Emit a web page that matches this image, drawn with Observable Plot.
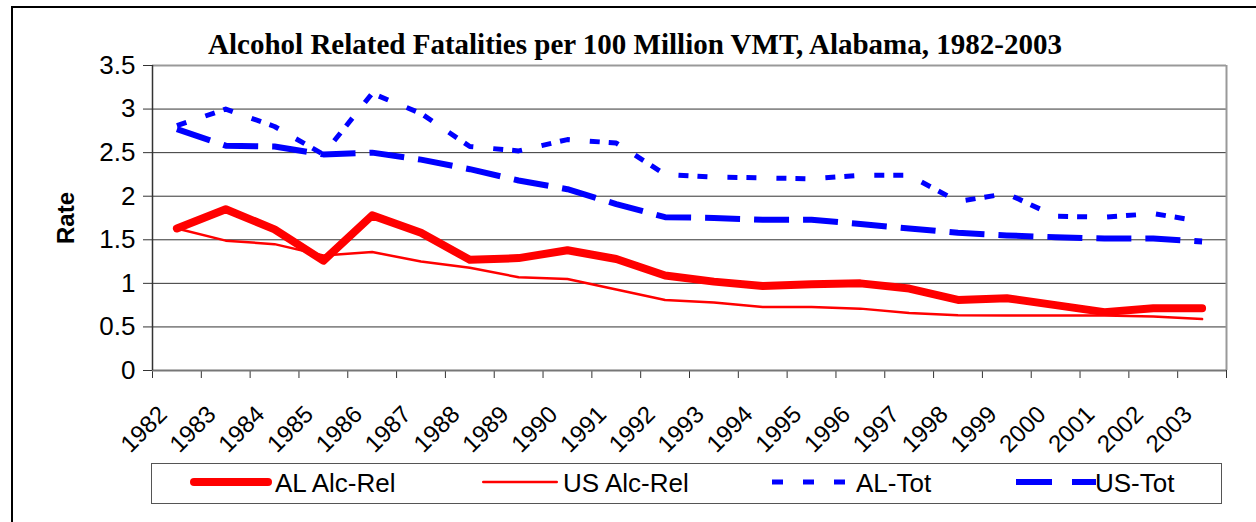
<!DOCTYPE html>
<html>
<head>
<meta charset="utf-8">
<script src="https://cdn.jsdelivr.net/npm/d3@7"></script>
<script src="https://cdn.jsdelivr.net/npm/@observablehq/plot@0.6"></script>
<style>
html, body { margin: 0; padding: 0; background: #fff; }
#wrap { position: relative; width: 1256px; height: 522px; overflow: hidden; font-family: "Liberation Sans", Arial, sans-serif; background: #fff; }
#border { position: absolute; left: 11px; top: 6px; width: 1400px; height: 700px; border: 2px solid #000; }
#title { position: absolute; left: 0; top: 30px; width: 1270px; text-align: center; font: bold 29px/29px "Liberation Serif", "Times New Roman", serif; white-space: nowrap; color: #000; }
#chart { position: absolute; left: 0; top: 0; }
#legend { position: absolute; left: 151px; top: 463px; width: 1069px; height: 39px; border: 1.5px solid #555; background: #fff; }
.sw { position: absolute; top: 0; }
.lt { position: absolute; top: 4px; font-size: 26px; line-height: 30px; color: #000; white-space: nowrap; }
</style>
</head>
<body>
<div id="wrap">
  <div id="border"></div>
  <div id="chart"></div>
  <div id="title">Alcohol Related Fatalities per 100 Million VMT, Alabama, 1982-2003</div>
  <div id="legend"></div>
</div>
<script>
// ---- data ----
const years = [1982, 1983, 1984, 1985, 1986, 1987, 1988, 1989, 1990, 1991, 1992,
               1993, 1994, 1995, 1996, 1997, 1998, 1999, 2000, 2001, 2002, 2003];
const alAlcRel = [1.63, 1.85, 1.62, 1.26, 1.78, 1.58, 1.27, 1.29, 1.38, 1.28, 1.09,
                  1.02, 0.97, 0.99, 1.00, 0.94, 0.81, 0.83, 0.75, 0.67, 0.715, 0.715];
const usAlcRel = [1.63, 1.49, 1.45, 1.32, 1.36, 1.25, 1.18, 1.07, 1.05, 0.93, 0.81,
                  0.78, 0.73, 0.73, 0.71, 0.66, 0.635, 0.63, 0.63, 0.63, 0.62, 0.59];
const alTot = [2.81, 3.00, 2.80, 2.48, 3.18, 2.95, 2.57, 2.52, 2.65, 2.61, 2.25,
               2.22, 2.21, 2.20, 2.24, 2.24, 1.94, 2.03, 1.77, 1.76, 1.80, 1.71];
const usTot = [2.77, 2.58, 2.57, 2.48, 2.50, 2.42, 2.31, 2.18, 2.08, 1.91, 1.76,
               1.75, 1.73, 1.73, 1.68, 1.63, 1.58, 1.55, 1.53, 1.515, 1.515, 1.48];
const seriesNames = ["AL Alc-Rel", "US Alc-Rel", "AL-Tot", "US-Tot"];
const yTicks = [0, 0.5, 1, 1.5, 2, 2.5, 3, 3.5];
const yLabel = "Rate";

// ---- styles (not data) ----
const styles = {
  "AL Alc-Rel": {stroke: "#FF0000", strokeWidth: 8, strokeDasharray: null, cap: "round"},
  "US Alc-Rel": {stroke: "#FF0000", strokeWidth: 2.5, strokeDasharray: null, cap: "round"},
  "AL-Tot": {stroke: "#0000FF", strokeWidth: 5, strokeDasharray: "10,20,10,9", cap: "butt"},
  "US-Tot": {stroke: "#0000FF", strokeWidth: 6, strokeDasharray: "35,14", cap: "butt"}
};

const seriesValues = [alAlcRel, usAlcRel, alTot, usTot];
const rows = (vals, name) => years.map((yr, i) => ({year: yr, value: vals[i], series: name}));
const boundaries = [...years.map(y => y - 0.5), years[years.length - 1] + 0.5];
const xMin = boundaries[0], xMax = boundaries[boundaries.length - 1];

const drawOrder = [2, 3, 0, 1];
const lineMarks = drawOrder.map(i => {
  const name = seriesNames[i];
  const s = styles[name];
  return Plot.line(rows(seriesValues[i], name), {
    x: "year", y: "value", stroke: s.stroke, strokeWidth: s.strokeWidth,
    strokeDasharray: s.strokeDasharray, strokeLinecap: s.cap, strokeLinejoin: "round"
  });
});

const chart = Plot.plot({
  width: 1256,
  height: 522,
  marginLeft: 152,
  marginRight: 30,
  marginTop: 65,
  marginBottom: 152,
  style: {fontFamily: "'Liberation Sans', Arial, sans-serif", background: "transparent", color: "#000"},
  x: {type: "linear", domain: [xMin, xMax]},
  y: {domain: [yTicks[0], yTicks[yTicks.length - 1]]},
  marks: [
    Plot.gridY(yTicks.slice(1, -1), {stroke: "#333", strokeOpacity: 1, strokeWidth: 1}),
    Plot.ruleY([yTicks[yTicks.length - 1]], {stroke: "#999", strokeWidth: 2}),
    Plot.ruleX([xMax], {stroke: "#999", strokeWidth: 2}),
    Plot.axisY(yTicks, {tickSize: 9, tickPadding: 8, fontSize: 26, tickFormat: d => String(d), label: null, stroke: "#333"}),
    Plot.axisX(boundaries, {tickSize: 8, tickFormat: () => "", label: null, stroke: "#333"}),
    Plot.axisX(years, {tickSize: 0, tickRotate: -45, tickPadding: 40, dx: -14, fontSize: 24, tickFormat: d => String(d), label: null}),
    Plot.ruleY([0], {stroke: "#777", strokeWidth: 2}),
    Plot.ruleX([xMin], {stroke: "#333", strokeWidth: 1.5}),
    Plot.text([yLabel], {text: d => d, frameAnchor: "left", textAnchor: "middle", dx: -86, rotate: -90, fontSize: 24, fontWeight: "bold"}),
    ...lineMarks
  ]
});
document.getElementById("chart").appendChild(chart);

// ---- legend (HTML) ----
const legendLayout = [
  {sw: 38, w: 82, text: 123},
  {sw: 330, w: 76, text: 411},
  {sw: 620, w: 74, text: 704},
  {sw: 864, w: 80, text: 943}
];
const legend = document.getElementById("legend");
seriesNames.forEach((name, i) => {
  const s = styles[name];
  const L = legendLayout[i];
  const svg = document.createElementNS("http://www.w3.org/2000/svg", "svg");
  svg.setAttribute("class", "sw");
  svg.setAttribute("width", L.w);
  svg.setAttribute("height", 39);
  svg.style.left = L.sw + "px";
  const ln = document.createElementNS("http://www.w3.org/2000/svg", "line");
  const pad = s.cap === "round" ? s.strokeWidth / 2 : 0;
  ln.setAttribute("x1", pad); ln.setAttribute("x2", L.w - pad);
  ln.setAttribute("y1", 18); ln.setAttribute("y2", 18);
  ln.setAttribute("stroke", s.stroke);
  ln.setAttribute("stroke-width", s.strokeWidth);
  ln.setAttribute("stroke-linecap", s.cap);
  if (name === "AL-Tot") ln.setAttribute("stroke-dasharray", "11,20");
  else if (name === "US-Tot") ln.setAttribute("stroke-dasharray", "36,20");
  svg.appendChild(ln);
  legend.appendChild(svg);
  const t = document.createElement("span");
  t.className = "lt";
  t.style.left = L.text + "px";
  t.textContent = name;
  legend.appendChild(t);
});
</script>
</body>
</html>
